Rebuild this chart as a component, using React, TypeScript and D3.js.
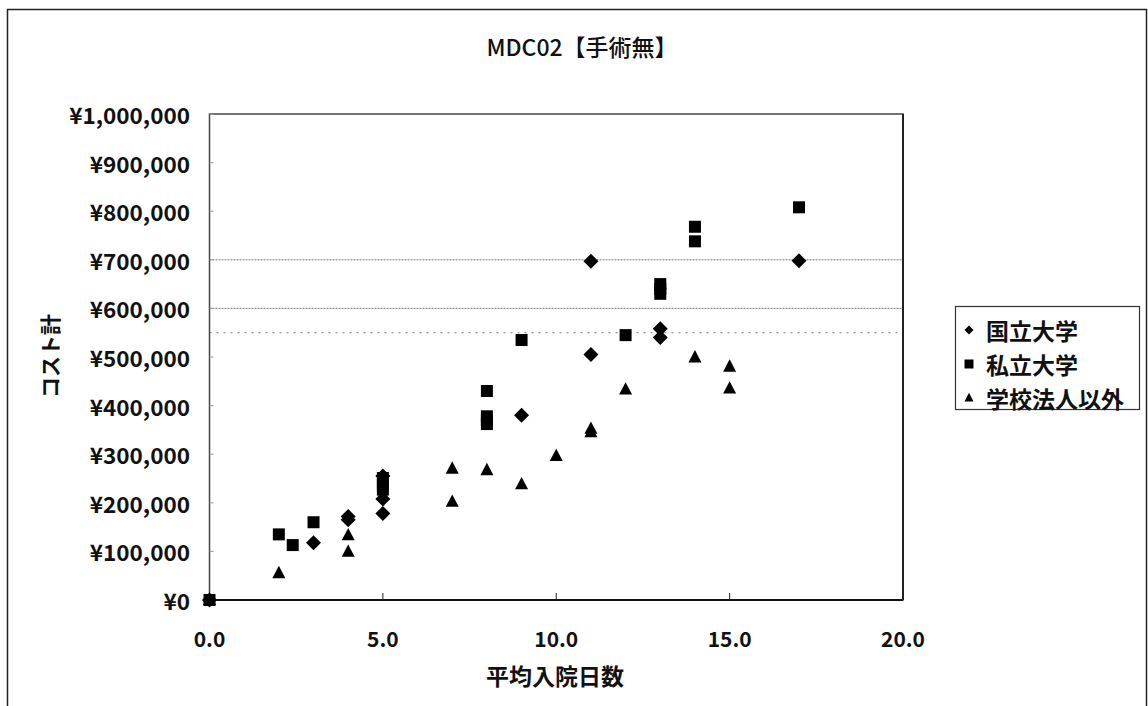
import React from "react";
import * as d3 from "d3";

const seriesNames = ["国立大学", "私立大学", "学校法人以外"];
const symbolTypes = ["diamond", "square", "triangle"];

// 国立大学 (diamond)
const kokuritsuX = [0, 3, 4, 4, 5, 5, 5, 9, 11, 11, 13, 13, 17];
const kokuritsuY = [0, 118000, 172000, 165000, 255000, 208000, 178000, 380000, 697000, 505000, 558000, 540000, 698000];
// 私立大学 (square)
const shiritsuX = [0, 2, 2.4, 3, 5, 5, 5, 8, 8, 8, 8, 9, 12, 13, 13, 13, 14, 14, 17];
const shiritsuY = [0, 135000, 113000, 160000, 251000, 238000, 227000, 430000, 378000, 370000, 362000, 535000, 545000, 650000, 640000, 630000, 768000, 738000, 808000];
// 学校法人以外 (triangle)
const gakkouX = [0, 2, 4, 4, 7, 7, 8, 9, 10, 11, 11, 12, 14, 15, 15];
const gakkouY = [0, 55000, 133000, 99000, 270000, 202000, 267000, 238000, 296000, 352000, 345000, 433000, 499000, 480000, 435000];

const refLines = [700000, 600000, 550000];
const xTicks = [0, 5, 10, 15, 20];
const yTicks = [0, 100000, 200000, 300000, 400000, 500000, 600000, 700000, 800000, 900000, 1000000];

const title = "MDC02【手術無】";
const xTitle = "平均入院日数";
const yTitle = "コスト計";

const FONT = "'Noto Sans CJK JP', 'Liberation Sans', sans-serif";

function markerPath(type: string, size: number) {
  if (type === "diamond") {
    const h = size / 2;
    return `M0,${-h}L${h},0L0,${h}L${-h},0Z`;
  }
  if (type === "square") {
    const h = size / 2;
    return `M${-h},${-h}H${h}V${h}H${-h}Z`;
  }
  const w = size / 2;
  const hgt = size * 0.95;
  return `M0,${-hgt * 0.6}L${w},${hgt * 0.4}L${-w},${hgt * 0.4}Z`;
}

export default function App() {
  const W = 1148;
  const H = 706;
  const left = 209.5;
  const right = 903;
  const top = 114;
  const bottom = 600;

  const x = d3.scaleLinear().domain([0, 20]).range([left, right]);
  const y = d3.scaleLinear().domain([0, 1000000]).range([bottom, top]);

  const series = [
    { name: seriesNames[0], type: symbolTypes[0], xs: kokuritsuX, ys: kokuritsuY, size: 15 },
    { name: seriesNames[1], type: symbolTypes[1], xs: shiritsuX, ys: shiritsuY, size: 12 },
    { name: seriesNames[2], type: symbolTypes[2], xs: gakkouX, ys: gakkouY, size: 13 },
  ];

  const yFmt = (v: number) => "¥" + d3.format(",")(v);
  const xFmt = d3.format(".1f");

  const legendRows = [330, 364, 398];

  return (
    <svg
      width={W}
      height={H}
      style={{ position: "absolute", left: 0, top: 0, background: "#fff" }}
      fontFamily={FONT}
    >
      <rect x={0} y={0} width={W} height={H} fill="#fff" />
      {/* outer frame */}
      <path d={`M7.5,${H}V9.5H1146.5V${H}`} fill="none" stroke="#222" strokeWidth={1.5} />

      {/* title */}
      <text x={582} y={46} textAnchor="middle" dominantBaseline="central" fontSize={23} fontWeight={500} fill="#111">
        {title}
      </text>

      {/* reference dotted lines */}
      {refLines.map((v) => (
        <line
          key={v}
          x1={left}
          x2={right}
          y1={y(v)}
          y2={y(v)}
          stroke="#777"
          strokeWidth={1}
          strokeDasharray={v === 550000 ? "2,5" : "2,1"}
        />
      ))}

      {/* plot border */}
      <rect x={left} y={top} width={right - left} height={bottom - top} fill="none" stroke="#444" strokeWidth={1.5} />
      <line x1={left} x2={right} y1={bottom} y2={bottom} stroke="#111" strokeWidth={2} />
      <line x1={right} x2={right} y1={top} y2={bottom} stroke="#222" strokeWidth={2} />

      {/* x ticks */}
      {xTicks.map((t) => (
        <g key={t}>
          <line x1={x(t)} x2={x(t)} y1={bottom} y2={bottom - 7} stroke="#222" strokeWidth={1} />
          <text x={x(t)} y={638} textAnchor="middle" dominantBaseline="central" fontSize={21} fontWeight={700} fill="#111">
            {xFmt(t)}
          </text>
        </g>
      ))}

      {/* y ticks */}
      {yTicks.map((t) => (
        <g key={t}>
          <line x1={left} x2={left + 4} y1={y(t)} y2={y(t)} stroke="#999" strokeWidth={1} />
          <text x={190} y={y(t)} textAnchor="end" dominantBaseline="central" fontSize={22.5} fontWeight={700} fill="#111">
            {yFmt(t)}
          </text>
        </g>
      ))}

      {/* axis titles */}
      <text x={555} y={675} textAnchor="middle" dominantBaseline="central" fontSize={23} fontWeight={700} fill="#111">
        {xTitle}
      </text>
      <text
        transform={`translate(49,356) rotate(-90)`}
        textAnchor="middle"
        dominantBaseline="central"
        fontSize={21}
        fontWeight={700}
        fill="#111"
      >
        {yTitle}
      </text>

      {/* points */}
      {series.map((s) => (
        <g key={s.name}>
          {s.xs.map((xv, i) => (
            <path
              key={i}
              d={markerPath(s.type, s.size)}
              transform={`translate(${x(xv)},${y(s.ys[i])})`}
              fill="#000"
            />
          ))}
        </g>
      ))}

      {/* legend */}
      <rect x={955.5} y={306.5} width={184} height={103} fill="#fff" stroke="#333" strokeWidth={1.2} />
      {series.map((s, i) => (
        <g key={s.name}>
          <path d={markerPath(s.type, 9)} transform={`translate(969,${legendRows[i]})`} fill="#000" />
          <text x={986} y={legendRows[i]} dominantBaseline="central" fontSize={23} fontWeight={700} fill="#111">
            {s.name}
          </text>
        </g>
      ))}
    </svg>
  );
}
